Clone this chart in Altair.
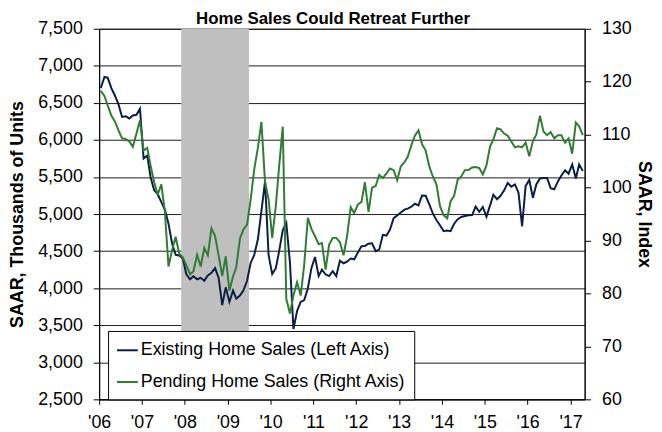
import altair as alt
import pandas as pd

TITLE = "Home Sales Could Retreat Further"
SERIES = ["Existing Home Sales (Left Axis)", "Pending Home Sales (Right Axis)"]
LEFT_TITLE = "SAAR, Thousands of Units"
RIGHT_TITLE = "SAAR, Index"

# monthly, Jan 2006 - Apr 2017 (136 months)
dates = [d.strftime("%Y-%m-15") for d in pd.date_range("2006-01-01", periods=136, freq="MS")]

existing = [
    6700, 6850, 6840, 6700, 6600, 6480, 6310, 6320, 6290, 6330, 6340, 6420,
    5750, 5790, 5500, 5320, 5270, 5160, 5060, 4870, 4600, 4450, 4440, 4400,
    4184, 4119, 4160, 4120, 4140, 4100, 4170, 4206, 4271, 4141, 3772, 4011,
    3815, 3967, 3858, 3900, 3970, 4100, 4340, 4450, 4660, 5040, 5440, 4450,
    4190, 4270, 4500, 4780, 4880, 4350, 3450, 3690, 3815, 3840, 4000, 4270,
    4420, 4163, 4250, 4184, 4163, 4228, 4163, 4370, 4336, 4358, 4400, 4390,
    4480, 4565, 4570, 4600, 4606, 4500, 4520, 4720, 4710, 4790, 4944, 4980,
    5020, 5060, 5074, 5100, 5139, 5117, 5250, 5247, 5130, 5009, 4920, 4850,
    4770, 4779, 4770, 4870, 4930, 4960, 4974, 4985, 4987, 5100, 5030, 5095,
    4965, 5117, 5260, 5200, 5247, 5320, 5420, 5370, 5400, 5291, 4835, 5380,
    5460, 5220, 5400, 5480, 5486, 5486, 5350, 5334, 5440, 5520, 5590, 5545,
    5670, 5480, 5670, 5580,
]

pending = [
    118.3, 117.3, 115.5, 113.6, 112.5, 110.8, 109.3, 109.2, 108.7, 107.7, 110.2, 112.7,
    107.0, 107.5, 104.2, 101.0, 98.7, 100.6, 95.5, 85.1, 88.2, 90.7, 87.5, 86.8,
    85.3, 83.6, 84.2, 87.3, 85.1, 88.6, 87.2, 92.3, 90.9, 87.2, 83.3, 87.0,
    80.5, 83.2, 85.0, 90.4, 92.1, 93.0, 97.7, 103.5, 107.5, 112.4, 101.0, 97.8,
    90.5, 96.6, 104.0, 111.5, 79.0, 76.2, 79.6, 82.1, 79.6, 85.5, 94.3, 92.2,
    90.8, 89.3, 89.5, 84.5, 89.2, 90.5, 90.5, 89.7, 87.2, 90.8, 96.3, 95.2,
    96.8, 97.3, 101.0, 95.4, 100.0, 100.3, 102.4, 101.8, 102.7, 103.6, 103.3, 101.4,
    104.0, 104.8, 105.8, 108.0, 109.8, 110.8, 108.2, 107.0, 104.0, 102.1, 100.6, 96.5,
    94.8, 94.2, 97.4, 98.5, 101.5, 102.1, 103.3, 103.3, 103.8, 103.9, 103.7, 102.5,
    104.2, 107.8, 109.1, 111.2, 111.0, 110.2, 109.8, 108.7, 107.6, 107.8, 107.6, 108.5,
    105.9, 108.8, 110.0, 113.6, 110.6, 109.9, 110.5, 109.3, 109.9, 109.9, 108.5, 109.3,
    106.4, 112.3, 111.6, 109.9,
]

recession_start = ["2007-12-01"]
recession_end = ["2009-07-01"]

left_ticks = list(range(2500, 7501, 500))
right_ticks = list(range(60, 131, 10))
year_ticks = list(range(2006, 2018))

NAVY = "#0C1E46"
GREEN = "#2E7D32"
FONT = "Liberation Sans"

W, H = 490, 374
TOP = 19

df_e = pd.DataFrame({"date": dates, "value": existing, "series": SERIES[0]})
df_p = pd.DataFrame({"date": dates, "value": pending, "series": SERIES[1]})
df_r = pd.DataFrame({"start": recession_start, "end": recession_end})
df_t = pd.DataFrame({"t": [TITLE]})

x_scale = alt.Scale(domain=[alt.DateTime(year=2006, month=1, date=1),
                            alt.DateTime(year=2017, month=5, date=1)])
x_axis = alt.Axis(
    title=None,
    values=[alt.DateTime(year=y, month=1, date=1) for y in year_ticks],
    format="'%y",
    grid=False,
    tickSize=5,
    labelPadding=9,
    labelFlush=False,
    labelOverlap=False,
)

color_enc = alt.Color(
    "series:N",
    scale=alt.Scale(domain=SERIES, range=[NAVY, GREEN]),
    legend=alt.Legend(
        title=None,
        orient="none",
        legendX=9,
        legendY=305,
        direction="vertical",
        fillColor="white",
        strokeColor="black",
        padding=8,
        labelFont=FONT,
        labelFontSize=18,
        labelColor="black",
        labelLimit=500,
        labelOffset=2,
        symbolType="stroke",
        symbolStrokeWidth=2,
        symbolSize=441,
        rowPadding=11,
        cornerRadius=0,
    ),
)

rect = alt.Chart(df_r).mark_rect(color="#BFBFBF").encode(
    x=alt.X("start:T", scale=x_scale, axis=x_axis),
    x2="end:T",
)

line_e = alt.Chart(df_e).mark_line(strokeWidth=2).encode(
    x=alt.X("date:T", scale=x_scale, axis=x_axis),
    y=alt.Y(
        "value:Q",
        scale=alt.Scale(domain=[2500, 7500], nice=False, zero=False),
        axis=alt.Axis(
            orient="left",
            title=LEFT_TITLE,
            values=left_ticks,
            format=",.0f",
            grid=True,
            gridColor="#1a1a1a",
            gridWidth=1,
            tickSize=6,
            labelPadding=11,
            titleAngle=270,
            titleX=-82,
            titleY=H / 2,
            titleAlign="center",
            titleBaseline="middle",
        ),
    ),
    color=color_enc,
)

line_p = alt.Chart(df_p).mark_line(strokeWidth=2).encode(
    x=alt.X("date:T", scale=x_scale, axis=x_axis),
    y=alt.Y(
        "value:Q",
        scale=alt.Scale(domain=[60, 130], nice=False, zero=False),
        axis=alt.Axis(
            orient="right",
            title=RIGHT_TITLE,
            values=right_ticks,
            format=".0f",
            grid=False,
            tickSize=6,
            labelPadding=11,
            titleAngle=90,
            titleX=59,
            titleY=H / 2,
            titleAlign="center",
            titleBaseline="middle",
        ),
    ),
    color=color_enc,
)

title_text = alt.Chart(df_t).mark_text(
    font=FONT, fontSize=17, fontWeight="bold", color="black",
    align="center", baseline="top",
).encode(text="t:N", x=alt.value(236), y=alt.value(1 - TOP))

chart = (
    alt.layer(rect, line_e, line_p, title_text)
    .resolve_scale(y="independent")
    .properties(
        width=W,
        height=H,
        autosize=alt.AutoSizeParams(type="none"),
        padding={"left": 92, "top": TOP, "right": 70, "bottom": 31},
        background="white",
    )
    .configure_view(stroke="black", strokeWidth=1)
    .configure_axis(
        labelFont=FONT,
        titleFont=FONT,
        labelFontSize=18,
        titleFontSize=18,
        titleFontWeight="bold",
        labelColor="black",
        titleColor="black",
        domainColor="black",
        tickColor="black",
        domainWidth=1,
        tickWidth=1,
    )
)

chart.save("out.html", embed_options={"renderer": "svg", "actions": False})
